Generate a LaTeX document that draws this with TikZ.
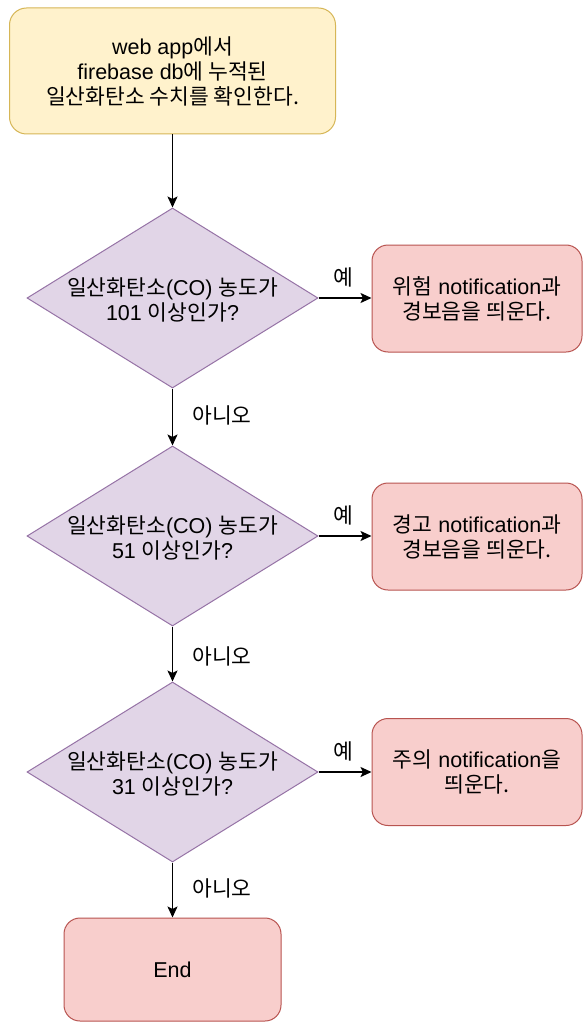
\documentclass[tikz,border=0pt]{standalone}
\usepackage{fontspec}
\setmainfont{Liberation Sans}
\newfontfamily\kr{Noto Sans CJK KR}
\usetikzlibrary{shapes.geometric,arrows.meta}
\definecolor{yfill}{HTML}{FFF2CC}
\definecolor{ydraw}{HTML}{D6B656}
\definecolor{pfill}{HTML}{E1D5E7}
\definecolor{pdraw}{HTML}{9673A6}
\definecolor{rfill}{HTML}{F8CECC}
\definecolor{rdraw}{HTML}{B85450}
\begin{document}
\begin{tikzpicture}[x=1pt,y=-1pt,
  every node/.style={font=\fontsize{21.5}{25}\selectfont},
  startbox/.style={draw=ydraw,fill=yfill,line width=1pt,rounded corners=17pt,
    minimum width=326pt,minimum height=126pt,align=center,inner sep=0pt},
  dia/.style={draw=pdraw,fill=pfill,line width=1pt,shape=diamond,
    minimum width=291pt,minimum height=180pt,inner sep=0pt},
  dtext/.style={align=center,inner sep=0pt,yshift=-2pt},
  redbox/.style={draw=rdraw,fill=rfill,line width=1pt,rounded corners=16pt,
    minimum width=210pt,minimum height=107pt,align=center,inner sep=0pt},
  endbox/.style={draw=rdraw,fill=rfill,line width=1pt,rounded corners=16pt,
    minimum width=217pt,minimum height=103pt,align=center,inner sep=0pt},
  conn/.style={draw=black,line width=1.7pt,-{Stealth[length=11pt,width=10pt,inset=2.5pt]}},
  lab/.style={inner sep=0pt}]
\useasboundingbox (0,0) rectangle (583,1024);
\fill[white] (0,0) rectangle (583,1024);

\node[startbox] (start) at (172.5,71) {web app{\kr 에서}\\firebase db{\kr 에 누적된}\\{\kr 일산화탄소 수치를 확인한다.}};

\node[dia,label={[dtext]center:{\kr 일산화탄소}(CO) {\kr 농도가}\\101 {\kr 이상인가}?}] (d1) at (172.5,298) {};
\node[dia,label={[dtext]center:{\kr 일산화탄소}(CO) {\kr 농도가}\\51 {\kr 이상인가}?}] (d2) at (172.5,536) {};
\node[dia,label={[dtext]center:{\kr 일산화탄소}(CO) {\kr 농도가}\\31 {\kr 이상인가}?}] (d3) at (172.5,772) {};

\node[redbox] (r1) at (477,298.5) {{\kr 위험} notification{\kr 과}\\{\kr 경보음을 띄운다.}};
\node[redbox] (r2) at (477,536.5) {{\kr 경고} notification{\kr 과}\\{\kr 경보음을 띄운다.}};
\node[redbox] (r3) at (477,772) {{\kr 주의} notification{\kr 을}\\{\kr 띄운다.}};

\node[endbox] (end) at (172.5,969.5) {End};

\draw[conn] (start) -- (d1);
\draw[conn] (d1) -- (d2);
\draw[conn] (d2) -- (d3);
\draw[conn] (d3) -- (end);
\draw[conn] (d1.east) -- (d1.east -| r1.west);
\draw[conn] (d2.east) -- (d2.east -| r2.west);
\draw[conn] (d3.east) -- (d3.east -| r3.west);

\node[lab] (y1) at (343,277) {\kr 예};
\node[lab] (y2) at (343,515) {\kr 예};
\node[lab] (y3) at (343,751) {\kr 예};
\node[lab] (n1) at (222,415) {\kr 아니오};
\node[lab] (n2) at (222,656) {\kr 아니오};
\node[lab] (n3) at (222,888) {\kr 아니오};
\end{tikzpicture}
\end{document}
